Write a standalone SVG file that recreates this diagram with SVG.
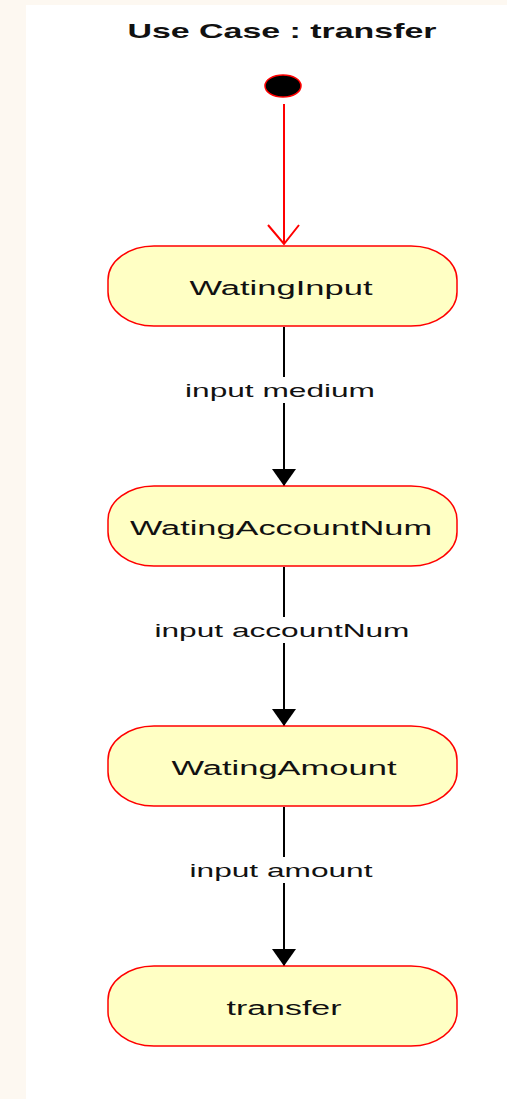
<svg xmlns="http://www.w3.org/2000/svg" width="507" height="1099" viewBox="0 0 507 1099">
  <style>
    .node rect { fill: #ffffc4; stroke: #ff0000; stroke-width: 1.5; }
    .node text { font-family: "Liberation Sans", Arial, sans-serif; font-size: 20px; fill: #111; text-anchor: middle; }
    .lbl { font-family: "Liberation Sans", Arial, sans-serif; font-size: 19px; fill: #111; text-anchor: middle; }
    .title { font-family: "Liberation Sans", Arial, sans-serif; font-size: 21px; font-weight: bold; fill: #111; text-anchor: middle; }
    .edge { stroke: #000; stroke-width: 2; fill: none; }
    .init { stroke: #ff0000; stroke-width: 2; fill: none; }
  </style>
  <defs>
    <marker id="tri" markerWidth="24" markerHeight="18" refX="12" refY="17" orient="0" markerUnits="userSpaceOnUse" viewBox="0 0 24 18">
      <polygon points="0,0 24,0 12,17" fill="#000"/>
    </marker>
  </defs>
  <rect x="0" y="0" width="507" height="1099" fill="#fdf8f1"/>
  <rect x="26" y="5" width="481" height="1094" fill="#ffffff"/>
  <text class="title" x="282" y="38" textLength="309" lengthAdjust="spacingAndGlyphs">Use Case : transfer</text>

  <g id="initial">
    <ellipse cx="283" cy="86" rx="18" ry="11" fill="#000" stroke="#ff0000" stroke-width="1.5"/>
  </g>

  <g id="connectors">
    <line class="init" x1="284" y1="104" x2="284" y2="244"/>
    <polyline class="init" points="268,225 284,244 299,225"/>
    <line class="edge" x1="284" y1="327" x2="284" y2="486" marker-end="url(#tri)"/>
    <line class="edge" x1="284" y1="567" x2="284" y2="726" marker-end="url(#tri)"/>
    <line class="edge" x1="284" y1="807" x2="284" y2="966" marker-end="url(#tri)"/>
    <rect x="180" y="377" width="200" height="26" fill="#ffffff"/>
    <text class="lbl" x="280" y="397" textLength="190" lengthAdjust="spacingAndGlyphs">input medium</text>
    <rect x="150" y="617" width="266" height="26" fill="#ffffff"/>
    <text class="lbl" x="282" y="637" textLength="255" lengthAdjust="spacingAndGlyphs">input accountNum</text>
    <rect x="184" y="857" width="194" height="26" fill="#ffffff"/>
    <text class="lbl" x="281" y="877" textLength="183" lengthAdjust="spacingAndGlyphs">input amount</text>
  </g>

  <g id="WatingInput" class="node">
    <rect x="108" y="246" width="349" height="80" rx="46" ry="34"/>
    <text x="281" y="295" textLength="183" lengthAdjust="spacingAndGlyphs">WatingInput</text>
  </g>
  <g id="WatingAccountNum" class="node">
    <rect x="108" y="486" width="349" height="80" rx="46" ry="34"/>
    <text x="281" y="535" textLength="302" lengthAdjust="spacingAndGlyphs">WatingAccountNum</text>
  </g>
  <g id="WatingAmount" class="node">
    <rect x="108" y="726" width="349" height="80" rx="46" ry="34"/>
    <text x="284" y="775" textLength="225" lengthAdjust="spacingAndGlyphs">WatingAmount</text>
  </g>
  <g id="transfer" class="node">
    <rect x="108" y="966" width="349" height="80" rx="46" ry="34"/>
    <text x="284" y="1015" textLength="115" lengthAdjust="spacingAndGlyphs">transfer</text>
  </g>
</svg>
